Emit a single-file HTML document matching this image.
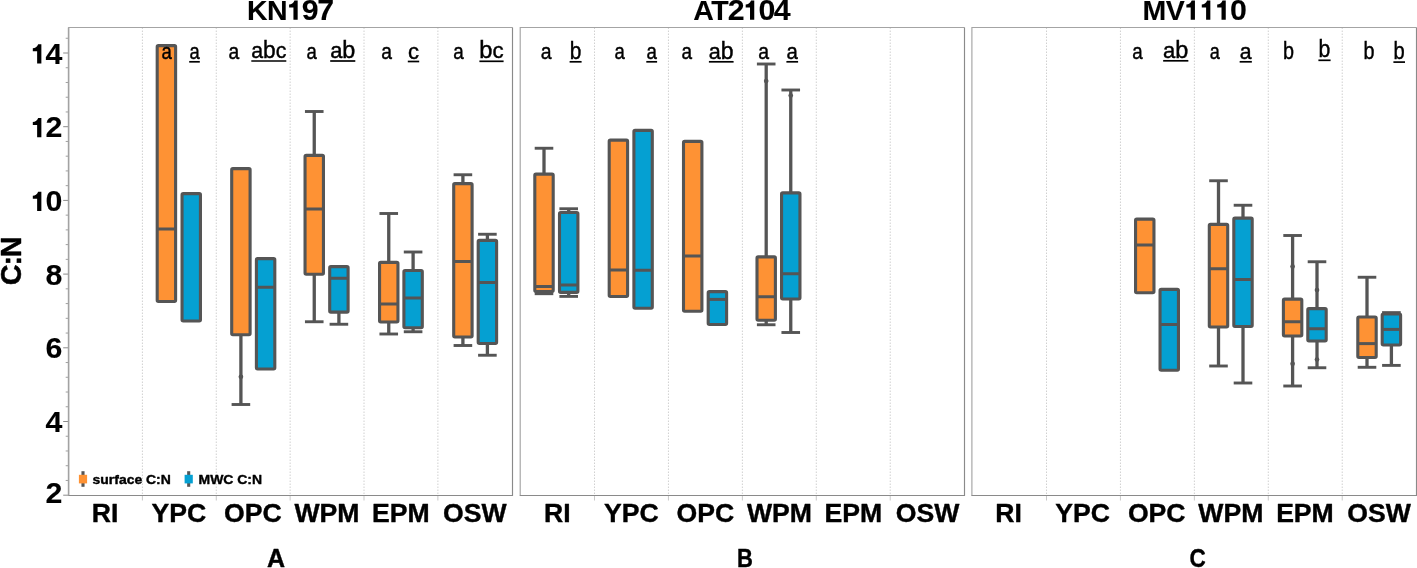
<!DOCTYPE html>
<html><head><meta charset="utf-8"><title>C:N boxplots</title>
<style>html,body{margin:0;padding:0;background:#fff;}body{width:1417px;height:568px;overflow:hidden;font-family:"Liberation Sans",sans-serif;}</style></head>
<body>
<svg width="1417" height="568" viewBox="0 0 1417 568" style="display:block;will-change:transform">
<rect width="1417" height="568" fill="#fff"/>
<line x1="142.40" y1="27.5" x2="142.40" y2="495.5" stroke="#d0d0d0" stroke-width="1" stroke-dasharray="1.5 1.5"/>
<line x1="142.40" y1="495.5" x2="142.40" y2="500.5" stroke="#c9c9c9" stroke-width="1"/>
<line x1="216.27" y1="27.5" x2="216.27" y2="495.5" stroke="#d0d0d0" stroke-width="1" stroke-dasharray="1.5 1.5"/>
<line x1="216.27" y1="495.5" x2="216.27" y2="500.5" stroke="#c9c9c9" stroke-width="1"/>
<line x1="290.14" y1="27.5" x2="290.14" y2="495.5" stroke="#d0d0d0" stroke-width="1" stroke-dasharray="1.5 1.5"/>
<line x1="290.14" y1="495.5" x2="290.14" y2="500.5" stroke="#c9c9c9" stroke-width="1"/>
<line x1="364.01" y1="27.5" x2="364.01" y2="495.5" stroke="#d0d0d0" stroke-width="1" stroke-dasharray="1.5 1.5"/>
<line x1="364.01" y1="495.5" x2="364.01" y2="500.5" stroke="#c9c9c9" stroke-width="1"/>
<line x1="437.88" y1="27.5" x2="437.88" y2="495.5" stroke="#d0d0d0" stroke-width="1" stroke-dasharray="1.5 1.5"/>
<line x1="437.88" y1="495.5" x2="437.88" y2="500.5" stroke="#c9c9c9" stroke-width="1"/>
<path d="M68.7,495.5V27.5H512.5" fill="none" stroke="#a4a4a4" stroke-width="1.15"/>
<path d="M512.5,27.5V495.5H68.2" fill="none" stroke="#8a8a8a" stroke-width="1.15"/>
<text x="246.90" y="19.75" font-family="Liberation Sans, sans-serif" font-weight="bold" font-size="28.53" fill="#000" stroke="#000" stroke-width="0.1" stroke-linejoin="round">K</text><text x="266.90" y="19.75" font-family="Liberation Sans, sans-serif" font-weight="bold" font-size="28.53" fill="#000" stroke="#000" stroke-width="0.1" stroke-linejoin="round">N</text><path transform="translate(287.20,19.75) scale(0.02770,-0.02770)" d="M378,0H225V445H69V553C150,556 228,603 262,697H378Z" fill="#000"/><text x="301.87" y="19.75" font-family="Liberation Sans, sans-serif" font-weight="bold" font-size="30.33" fill="#000" stroke="#000" stroke-width="0.1" stroke-linejoin="round">9</text><text x="317.27" y="19.75" font-family="Liberation Sans, sans-serif" font-weight="bold" font-size="30.33" fill="#000" stroke="#000" stroke-width="0.1" stroke-linejoin="round">7</text>
<text x="104.98" y="522.1" text-anchor="middle" font-family="Liberation Sans, sans-serif" font-weight="bold" stroke="#000" stroke-width="0.4" stroke-linejoin="round" font-size="26.6" fill="#000">RI</text>
<text x="178.95" y="522.1" text-anchor="middle" font-family="Liberation Sans, sans-serif" font-weight="bold" stroke="#000" stroke-width="0.4" stroke-linejoin="round" font-size="26.6" fill="#000">YPC</text>
<text x="252.92" y="522.1" text-anchor="middle" font-family="Liberation Sans, sans-serif" font-weight="bold" stroke="#000" stroke-width="0.4" stroke-linejoin="round" font-size="26.6" fill="#000">OPC</text>
<text x="326.88" y="522.1" text-anchor="middle" font-family="Liberation Sans, sans-serif" font-weight="bold" stroke="#000" stroke-width="0.4" stroke-linejoin="round" font-size="26.6" fill="#000">WPM</text>
<text x="400.85" y="522.1" text-anchor="middle" font-family="Liberation Sans, sans-serif" font-weight="bold" stroke="#000" stroke-width="0.4" stroke-linejoin="round" font-size="26.6" fill="#000">EPM</text>
<text x="474.82" y="522.1" text-anchor="middle" font-family="Liberation Sans, sans-serif" font-weight="bold" stroke="#000" stroke-width="0.4" stroke-linejoin="round" font-size="26.6" fill="#000">OSW</text>
<line x1="594.50" y1="27.5" x2="594.50" y2="495.5" stroke="#d0d0d0" stroke-width="1" stroke-dasharray="1.5 1.5"/>
<line x1="594.50" y1="495.5" x2="594.50" y2="500.5" stroke="#c9c9c9" stroke-width="1"/>
<line x1="668.43" y1="27.5" x2="668.43" y2="495.5" stroke="#d0d0d0" stroke-width="1" stroke-dasharray="1.5 1.5"/>
<line x1="668.43" y1="495.5" x2="668.43" y2="500.5" stroke="#c9c9c9" stroke-width="1"/>
<line x1="742.36" y1="27.5" x2="742.36" y2="495.5" stroke="#d0d0d0" stroke-width="1" stroke-dasharray="1.5 1.5"/>
<line x1="742.36" y1="495.5" x2="742.36" y2="500.5" stroke="#c9c9c9" stroke-width="1"/>
<line x1="816.29" y1="27.5" x2="816.29" y2="495.5" stroke="#d0d0d0" stroke-width="1" stroke-dasharray="1.5 1.5"/>
<line x1="816.29" y1="495.5" x2="816.29" y2="500.5" stroke="#c9c9c9" stroke-width="1"/>
<line x1="890.22" y1="27.5" x2="890.22" y2="495.5" stroke="#d0d0d0" stroke-width="1" stroke-dasharray="1.5 1.5"/>
<line x1="890.22" y1="495.5" x2="890.22" y2="500.5" stroke="#c9c9c9" stroke-width="1"/>
<path d="M520.2,495.5V27.5H964.5" fill="none" stroke="#a4a4a4" stroke-width="1.15"/>
<path d="M964.5,27.5V495.5H519.7" fill="none" stroke="#8a8a8a" stroke-width="1.15"/>
<text x="693.21" y="19.75" font-family="Liberation Sans, sans-serif" font-weight="bold" font-size="28.53" fill="#000" stroke="#000" stroke-width="0.1" stroke-linejoin="round">A</text><text x="711.21" y="19.75" font-family="Liberation Sans, sans-serif" font-weight="bold" font-size="28.53" fill="#000" stroke="#000" stroke-width="0.1" stroke-linejoin="round">T</text><text x="727.65" y="19.75" font-family="Liberation Sans, sans-serif" font-weight="bold" font-size="30.33" fill="#000" stroke="#000" stroke-width="0.1" stroke-linejoin="round">2</text><path transform="translate(743.79,19.75) scale(0.02770,-0.02770)" d="M378,0H225V445H69V553C150,556 228,603 262,697H378Z" fill="#000"/><text x="758.46" y="19.75" font-family="Liberation Sans, sans-serif" font-weight="bold" font-size="30.33" fill="#000" stroke="#000" stroke-width="0.1" stroke-linejoin="round">0</text><text x="773.86" y="19.75" font-family="Liberation Sans, sans-serif" font-weight="bold" font-size="30.33" fill="#000" stroke="#000" stroke-width="0.1" stroke-linejoin="round">4</text>
<text x="557.23" y="522.1" text-anchor="middle" font-family="Liberation Sans, sans-serif" font-weight="bold" stroke="#000" stroke-width="0.4" stroke-linejoin="round" font-size="26.6" fill="#000">RI</text>
<text x="631.28" y="522.1" text-anchor="middle" font-family="Liberation Sans, sans-serif" font-weight="bold" stroke="#000" stroke-width="0.4" stroke-linejoin="round" font-size="26.6" fill="#000">YPC</text>
<text x="705.33" y="522.1" text-anchor="middle" font-family="Liberation Sans, sans-serif" font-weight="bold" stroke="#000" stroke-width="0.4" stroke-linejoin="round" font-size="26.6" fill="#000">OPC</text>
<text x="779.38" y="522.1" text-anchor="middle" font-family="Liberation Sans, sans-serif" font-weight="bold" stroke="#000" stroke-width="0.4" stroke-linejoin="round" font-size="26.6" fill="#000">WPM</text>
<text x="853.42" y="522.1" text-anchor="middle" font-family="Liberation Sans, sans-serif" font-weight="bold" stroke="#000" stroke-width="0.4" stroke-linejoin="round" font-size="26.6" fill="#000">EPM</text>
<text x="927.48" y="522.1" text-anchor="middle" font-family="Liberation Sans, sans-serif" font-weight="bold" stroke="#000" stroke-width="0.4" stroke-linejoin="round" font-size="26.6" fill="#000">OSW</text>
<line x1="1046.50" y1="27.5" x2="1046.50" y2="495.5" stroke="#d0d0d0" stroke-width="1" stroke-dasharray="1.5 1.5"/>
<line x1="1046.50" y1="495.5" x2="1046.50" y2="500.5" stroke="#c9c9c9" stroke-width="1"/>
<line x1="1120.43" y1="27.5" x2="1120.43" y2="495.5" stroke="#d0d0d0" stroke-width="1" stroke-dasharray="1.5 1.5"/>
<line x1="1120.43" y1="495.5" x2="1120.43" y2="500.5" stroke="#c9c9c9" stroke-width="1"/>
<line x1="1194.36" y1="27.5" x2="1194.36" y2="495.5" stroke="#d0d0d0" stroke-width="1" stroke-dasharray="1.5 1.5"/>
<line x1="1194.36" y1="495.5" x2="1194.36" y2="500.5" stroke="#c9c9c9" stroke-width="1"/>
<line x1="1268.29" y1="27.5" x2="1268.29" y2="495.5" stroke="#d0d0d0" stroke-width="1" stroke-dasharray="1.5 1.5"/>
<line x1="1268.29" y1="495.5" x2="1268.29" y2="500.5" stroke="#c9c9c9" stroke-width="1"/>
<line x1="1342.22" y1="27.5" x2="1342.22" y2="495.5" stroke="#d0d0d0" stroke-width="1" stroke-dasharray="1.5 1.5"/>
<line x1="1342.22" y1="495.5" x2="1342.22" y2="500.5" stroke="#c9c9c9" stroke-width="1"/>
<path d="M971.9,495.5V27.5H1416.5" fill="none" stroke="#a4a4a4" stroke-width="1.15"/>
<path d="M1416.5,27.5V495.5H971.4" fill="none" stroke="#8a8a8a" stroke-width="1.15"/>
<text x="1142.58" y="19.75" font-family="Liberation Sans, sans-serif" font-weight="bold" font-size="28.53" fill="#000" stroke="#000" stroke-width="0.1" stroke-linejoin="round">M</text><text x="1165.72" y="19.75" font-family="Liberation Sans, sans-serif" font-weight="bold" font-size="28.53" fill="#000" stroke="#000" stroke-width="0.1" stroke-linejoin="round">V</text><path transform="translate(1184.47,19.75) scale(0.02770,-0.02770)" d="M378,0H225V445H69V553C150,556 228,603 262,697H378Z" fill="#000"/><path transform="translate(1199.87,19.75) scale(0.02770,-0.02770)" d="M378,0H225V445H69V553C150,556 228,603 262,697H378Z" fill="#000"/><path transform="translate(1215.28,19.75) scale(0.02770,-0.02770)" d="M378,0H225V445H69V553C150,556 228,603 262,697H378Z" fill="#000"/><text x="1229.94" y="19.75" font-family="Liberation Sans, sans-serif" font-weight="bold" font-size="30.33" fill="#000" stroke="#000" stroke-width="0.1" stroke-linejoin="round">0</text>
<text x="1008.55" y="522.1" text-anchor="middle" font-family="Liberation Sans, sans-serif" font-weight="bold" stroke="#000" stroke-width="0.4" stroke-linejoin="round" font-size="26.6" fill="#000">RI</text>
<text x="1082.65" y="522.1" text-anchor="middle" font-family="Liberation Sans, sans-serif" font-weight="bold" stroke="#000" stroke-width="0.4" stroke-linejoin="round" font-size="26.6" fill="#000">YPC</text>
<text x="1156.75" y="522.1" text-anchor="middle" font-family="Liberation Sans, sans-serif" font-weight="bold" stroke="#000" stroke-width="0.4" stroke-linejoin="round" font-size="26.6" fill="#000">OPC</text>
<text x="1230.85" y="522.1" text-anchor="middle" font-family="Liberation Sans, sans-serif" font-weight="bold" stroke="#000" stroke-width="0.4" stroke-linejoin="round" font-size="26.6" fill="#000">WPM</text>
<text x="1304.95" y="522.1" text-anchor="middle" font-family="Liberation Sans, sans-serif" font-weight="bold" stroke="#000" stroke-width="0.4" stroke-linejoin="round" font-size="26.6" fill="#000">EPM</text>
<text x="1379.05" y="522.1" text-anchor="middle" font-family="Liberation Sans, sans-serif" font-weight="bold" stroke="#000" stroke-width="0.4" stroke-linejoin="round" font-size="26.6" fill="#000">OSW</text>
<line x1="63.2" y1="495.20" x2="68.7" y2="495.20" stroke="#8c8c8c" stroke-width="1"/>
<text x="45.57" y="502.80" font-family="Liberation Sans, sans-serif" font-weight="bold" font-size="30.33" fill="#000" stroke="#000" stroke-width="0.1" stroke-linejoin="round">2</text>
<line x1="65.7" y1="480.46" x2="68.7" y2="480.46" stroke="#a0a0a0" stroke-width="1"/>
<line x1="65.7" y1="465.72" x2="68.7" y2="465.72" stroke="#a0a0a0" stroke-width="1"/>
<line x1="65.7" y1="450.98" x2="68.7" y2="450.98" stroke="#a0a0a0" stroke-width="1"/>
<line x1="65.7" y1="436.24" x2="68.7" y2="436.24" stroke="#a0a0a0" stroke-width="1"/>
<line x1="63.2" y1="421.50" x2="68.7" y2="421.50" stroke="#8c8c8c" stroke-width="1"/>
<text x="45.57" y="432.10" font-family="Liberation Sans, sans-serif" font-weight="bold" font-size="30.33" fill="#000" stroke="#000" stroke-width="0.1" stroke-linejoin="round">4</text>
<line x1="65.7" y1="406.76" x2="68.7" y2="406.76" stroke="#a0a0a0" stroke-width="1"/>
<line x1="65.7" y1="392.02" x2="68.7" y2="392.02" stroke="#a0a0a0" stroke-width="1"/>
<line x1="65.7" y1="377.28" x2="68.7" y2="377.28" stroke="#a0a0a0" stroke-width="1"/>
<line x1="65.7" y1="362.54" x2="68.7" y2="362.54" stroke="#a0a0a0" stroke-width="1"/>
<line x1="63.2" y1="347.80" x2="68.7" y2="347.80" stroke="#8c8c8c" stroke-width="1"/>
<text x="45.57" y="358.40" font-family="Liberation Sans, sans-serif" font-weight="bold" font-size="30.33" fill="#000" stroke="#000" stroke-width="0.1" stroke-linejoin="round">6</text>
<line x1="65.7" y1="333.06" x2="68.7" y2="333.06" stroke="#a0a0a0" stroke-width="1"/>
<line x1="65.7" y1="318.32" x2="68.7" y2="318.32" stroke="#a0a0a0" stroke-width="1"/>
<line x1="65.7" y1="303.58" x2="68.7" y2="303.58" stroke="#a0a0a0" stroke-width="1"/>
<line x1="65.7" y1="288.84" x2="68.7" y2="288.84" stroke="#a0a0a0" stroke-width="1"/>
<line x1="63.2" y1="274.10" x2="68.7" y2="274.10" stroke="#8c8c8c" stroke-width="1"/>
<text x="45.57" y="284.70" font-family="Liberation Sans, sans-serif" font-weight="bold" font-size="30.33" fill="#000" stroke="#000" stroke-width="0.1" stroke-linejoin="round">8</text>
<line x1="65.7" y1="259.36" x2="68.7" y2="259.36" stroke="#a0a0a0" stroke-width="1"/>
<line x1="65.7" y1="244.62" x2="68.7" y2="244.62" stroke="#a0a0a0" stroke-width="1"/>
<line x1="65.7" y1="229.88" x2="68.7" y2="229.88" stroke="#a0a0a0" stroke-width="1"/>
<line x1="65.7" y1="215.14" x2="68.7" y2="215.14" stroke="#a0a0a0" stroke-width="1"/>
<line x1="63.2" y1="200.40" x2="68.7" y2="200.40" stroke="#8c8c8c" stroke-width="1"/>
<path transform="translate(30.90,211.00) scale(0.02770,-0.02770)" d="M378,0H225V445H69V553C150,556 228,603 262,697H378Z" fill="#000"/><text x="45.57" y="211.00" font-family="Liberation Sans, sans-serif" font-weight="bold" font-size="30.33" fill="#000" stroke="#000" stroke-width="0.1" stroke-linejoin="round">0</text>
<line x1="65.7" y1="185.66" x2="68.7" y2="185.66" stroke="#a0a0a0" stroke-width="1"/>
<line x1="65.7" y1="170.92" x2="68.7" y2="170.92" stroke="#a0a0a0" stroke-width="1"/>
<line x1="65.7" y1="156.18" x2="68.7" y2="156.18" stroke="#a0a0a0" stroke-width="1"/>
<line x1="65.7" y1="141.44" x2="68.7" y2="141.44" stroke="#a0a0a0" stroke-width="1"/>
<line x1="63.2" y1="126.70" x2="68.7" y2="126.70" stroke="#8c8c8c" stroke-width="1"/>
<path transform="translate(30.90,137.30) scale(0.02770,-0.02770)" d="M378,0H225V445H69V553C150,556 228,603 262,697H378Z" fill="#000"/><text x="45.57" y="137.30" font-family="Liberation Sans, sans-serif" font-weight="bold" font-size="30.33" fill="#000" stroke="#000" stroke-width="0.1" stroke-linejoin="round">2</text>
<line x1="65.7" y1="111.96" x2="68.7" y2="111.96" stroke="#a0a0a0" stroke-width="1"/>
<line x1="65.7" y1="97.22" x2="68.7" y2="97.22" stroke="#a0a0a0" stroke-width="1"/>
<line x1="65.7" y1="82.48" x2="68.7" y2="82.48" stroke="#a0a0a0" stroke-width="1"/>
<line x1="65.7" y1="67.74" x2="68.7" y2="67.74" stroke="#a0a0a0" stroke-width="1"/>
<line x1="63.2" y1="53.00" x2="68.7" y2="53.00" stroke="#8c8c8c" stroke-width="1"/>
<path transform="translate(30.90,63.60) scale(0.02770,-0.02770)" d="M378,0H225V445H69V553C150,556 228,603 262,697H378Z" fill="#000"/><text x="45.57" y="63.60" font-family="Liberation Sans, sans-serif" font-weight="bold" font-size="30.33" fill="#000" stroke="#000" stroke-width="0.1" stroke-linejoin="round">4</text>
<line x1="65.7" y1="38.26" x2="68.7" y2="38.26" stroke="#a0a0a0" stroke-width="1"/>
<line x1="68.5" y1="27.5" x2="68.5" y2="495.5" stroke="#a2a2a2" stroke-width="1.4"/>
<g transform="translate(20.9,260.8) rotate(-90)"><text x="-24.40" y="0.00" font-family="Liberation Sans, sans-serif" font-weight="bold" font-size="28.73" fill="#000" stroke="#000" stroke-width="0.45" stroke-linejoin="round">C</text><text x="-4.78" y="0.00" font-family="Liberation Sans, sans-serif" font-weight="bold" font-size="28.73" fill="#000" stroke="#000" stroke-width="0.45" stroke-linejoin="round">:</text><text x="3.66" y="0.00" font-family="Liberation Sans, sans-serif" font-weight="bold" font-size="28.73" fill="#000" stroke="#000" stroke-width="0.45" stroke-linejoin="round">N</text></g>
<rect x="157.20" y="45.65" width="18.40" height="255.90" rx="1.2" fill="#FE9234" stroke="#555555" stroke-width="3.1" stroke-linejoin="round"/>
<line x1="157.20" y1="229" x2="175.60" y2="229" stroke="#555555" stroke-width="3"/>
<rect x="182.05" y="193.65" width="18.40" height="127.40" rx="1.2" fill="#05A0D2" stroke="#555555" stroke-width="3.1" stroke-linejoin="round"/>
<line x1="240.9" y1="335.35" x2="240.9" y2="404.5" stroke="#555555" stroke-width="3.3"/>
<line x1="231.6" y1="404.5" x2="250.20000000000002" y2="404.5" stroke="#555555" stroke-width="2.9"/>
<rect x="231.70" y="168.65" width="18.40" height="166.15" rx="1.2" fill="#FE9234" stroke="#555555" stroke-width="3.1" stroke-linejoin="round"/>
<circle cx="240.9" cy="376.75" r="2.35" fill="#555555"/>
<rect x="256.40" y="258.65" width="18.40" height="110.40" rx="1.2" fill="#05A0D2" stroke="#555555" stroke-width="3.1" stroke-linejoin="round"/>
<line x1="256.40" y1="287.25" x2="274.80" y2="287.25" stroke="#555555" stroke-width="3"/>
<line x1="314.25" y1="111.5" x2="314.25" y2="154.85" stroke="#555555" stroke-width="3.3"/>
<line x1="304.95" y1="111.5" x2="323.55" y2="111.5" stroke="#555555" stroke-width="2.9"/>
<line x1="314.25" y1="274.85" x2="314.25" y2="321.75" stroke="#555555" stroke-width="3.3"/>
<line x1="304.95" y1="321.75" x2="323.55" y2="321.75" stroke="#555555" stroke-width="2.9"/>
<rect x="305.05" y="155.40" width="18.40" height="118.90" rx="1.2" fill="#FE9234" stroke="#555555" stroke-width="3.1" stroke-linejoin="round"/>
<line x1="305.05" y1="209" x2="323.45" y2="209" stroke="#555555" stroke-width="3"/>
<line x1="338.9" y1="312.70000000000005" x2="338.9" y2="324.25" stroke="#555555" stroke-width="3.3"/>
<line x1="329.59999999999997" y1="324.25" x2="348.2" y2="324.25" stroke="#555555" stroke-width="2.9"/>
<rect x="329.70" y="266.65" width="18.40" height="45.50" rx="1.2" fill="#05A0D2" stroke="#555555" stroke-width="3.1" stroke-linejoin="round"/>
<line x1="329.70" y1="278.25" x2="348.10" y2="278.25" stroke="#555555" stroke-width="3"/>
<line x1="388.75" y1="213.5" x2="388.75" y2="261.85" stroke="#555555" stroke-width="3.3"/>
<line x1="379.45" y1="213.5" x2="398.05" y2="213.5" stroke="#555555" stroke-width="2.9"/>
<line x1="388.75" y1="322.6" x2="388.75" y2="334" stroke="#555555" stroke-width="3.3"/>
<line x1="379.45" y1="334" x2="398.05" y2="334" stroke="#555555" stroke-width="2.9"/>
<rect x="379.55" y="262.40" width="18.40" height="59.65" rx="1.2" fill="#FE9234" stroke="#555555" stroke-width="3.1" stroke-linejoin="round"/>
<line x1="379.55" y1="304.0" x2="397.95" y2="304.0" stroke="#555555" stroke-width="3"/>
<line x1="413.1" y1="252" x2="413.1" y2="270.0" stroke="#555555" stroke-width="3.3"/>
<line x1="403.8" y1="252" x2="422.40000000000003" y2="252" stroke="#555555" stroke-width="2.9"/>
<line x1="413.1" y1="328.35" x2="413.1" y2="331.75" stroke="#555555" stroke-width="3.3"/>
<line x1="403.8" y1="331.75" x2="422.40000000000003" y2="331.75" stroke="#555555" stroke-width="2.9"/>
<rect x="403.90" y="270.55" width="18.40" height="57.25" rx="1.2" fill="#05A0D2" stroke="#555555" stroke-width="3.1" stroke-linejoin="round"/>
<line x1="403.90" y1="298" x2="422.30" y2="298" stroke="#555555" stroke-width="3"/>
<line x1="462.9" y1="174.75" x2="462.9" y2="183.1" stroke="#555555" stroke-width="3.3"/>
<line x1="453.59999999999997" y1="174.75" x2="472.2" y2="174.75" stroke="#555555" stroke-width="2.9"/>
<line x1="462.9" y1="337.6" x2="462.9" y2="345.5" stroke="#555555" stroke-width="3.3"/>
<line x1="453.59999999999997" y1="345.5" x2="472.2" y2="345.5" stroke="#555555" stroke-width="2.9"/>
<rect x="453.70" y="183.65" width="18.40" height="153.40" rx="1.2" fill="#FE9234" stroke="#555555" stroke-width="3.1" stroke-linejoin="round"/>
<line x1="453.70" y1="261.5" x2="472.10" y2="261.5" stroke="#555555" stroke-width="3"/>
<line x1="487.4" y1="234.25" x2="487.4" y2="239.85" stroke="#555555" stroke-width="3.3"/>
<line x1="478.09999999999997" y1="234.25" x2="496.7" y2="234.25" stroke="#555555" stroke-width="2.9"/>
<line x1="487.4" y1="344.1" x2="487.4" y2="355.25" stroke="#555555" stroke-width="3.3"/>
<line x1="478.09999999999997" y1="355.25" x2="496.7" y2="355.25" stroke="#555555" stroke-width="2.9"/>
<rect x="478.20" y="240.40" width="18.40" height="103.15" rx="1.2" fill="#05A0D2" stroke="#555555" stroke-width="3.1" stroke-linejoin="round"/>
<line x1="478.20" y1="282.5" x2="496.60" y2="282.5" stroke="#555555" stroke-width="3"/>
<line x1="544.0" y1="148.25" x2="544.0" y2="173.6" stroke="#555555" stroke-width="3.3"/>
<line x1="534.7" y1="148.25" x2="553.3" y2="148.25" stroke="#555555" stroke-width="2.9"/>
<line x1="544.0" y1="292.0" x2="544.0" y2="293.7" stroke="#555555" stroke-width="3.3"/>
<line x1="534.7" y1="293.7" x2="553.3" y2="293.7" stroke="#555555" stroke-width="2.9"/>
<rect x="534.80" y="174.15" width="18.40" height="117.30" rx="1.2" fill="#FE9234" stroke="#555555" stroke-width="3.1" stroke-linejoin="round"/>
<line x1="534.80" y1="286.5" x2="553.20" y2="286.5" stroke="#555555" stroke-width="3"/>
<line x1="568.7" y1="208.75" x2="568.7" y2="212.0" stroke="#555555" stroke-width="3.3"/>
<line x1="559.4000000000001" y1="208.75" x2="578.0" y2="208.75" stroke="#555555" stroke-width="2.9"/>
<line x1="568.7" y1="292.90000000000003" x2="568.7" y2="296.4" stroke="#555555" stroke-width="3.3"/>
<line x1="559.4000000000001" y1="296.4" x2="578.0" y2="296.4" stroke="#555555" stroke-width="2.9"/>
<rect x="559.50" y="212.55" width="18.40" height="79.80" rx="1.2" fill="#05A0D2" stroke="#555555" stroke-width="3.1" stroke-linejoin="round"/>
<line x1="559.50" y1="285" x2="577.90" y2="285" stroke="#555555" stroke-width="3"/>
<rect x="609.20" y="140.15" width="18.40" height="156.40" rx="1.2" fill="#FE9234" stroke="#555555" stroke-width="3.1" stroke-linejoin="round"/>
<line x1="609.20" y1="270" x2="627.60" y2="270" stroke="#555555" stroke-width="3"/>
<rect x="633.90" y="130.40" width="18.40" height="177.90" rx="1.2" fill="#05A0D2" stroke="#555555" stroke-width="3.1" stroke-linejoin="round"/>
<line x1="633.90" y1="270.25" x2="652.30" y2="270.25" stroke="#555555" stroke-width="3"/>
<rect x="683.50" y="141.40" width="18.40" height="169.90" rx="1.2" fill="#FE9234" stroke="#555555" stroke-width="3.1" stroke-linejoin="round"/>
<line x1="683.50" y1="256" x2="701.90" y2="256" stroke="#555555" stroke-width="3"/>
<rect x="708.20" y="291.65" width="18.40" height="32.90" rx="1.2" fill="#05A0D2" stroke="#555555" stroke-width="3.1" stroke-linejoin="round"/>
<line x1="708.20" y1="299.4" x2="726.60" y2="299.4" stroke="#555555" stroke-width="3"/>
<line x1="766.2" y1="64" x2="766.2" y2="256.35" stroke="#555555" stroke-width="3.3"/>
<line x1="756.9000000000001" y1="64" x2="775.5" y2="64" stroke="#555555" stroke-width="2.9"/>
<line x1="766.2" y1="320.85" x2="766.2" y2="324.75" stroke="#555555" stroke-width="3.3"/>
<line x1="756.9000000000001" y1="324.75" x2="775.5" y2="324.75" stroke="#555555" stroke-width="2.9"/>
<rect x="757.00" y="256.90" width="18.40" height="63.40" rx="1.2" fill="#FE9234" stroke="#555555" stroke-width="3.1" stroke-linejoin="round"/>
<line x1="757.00" y1="296.75" x2="775.40" y2="296.75" stroke="#555555" stroke-width="3"/>
<circle cx="766.2" cy="81" r="2.35" fill="#555555"/>
<line x1="790.75" y1="90" x2="790.75" y2="192.35" stroke="#555555" stroke-width="3.3"/>
<line x1="781.45" y1="90" x2="800.05" y2="90" stroke="#555555" stroke-width="2.9"/>
<line x1="790.75" y1="299.6" x2="790.75" y2="332.5" stroke="#555555" stroke-width="3.3"/>
<line x1="781.45" y1="332.5" x2="800.05" y2="332.5" stroke="#555555" stroke-width="2.9"/>
<rect x="781.55" y="192.90" width="18.40" height="106.15" rx="1.2" fill="#05A0D2" stroke="#555555" stroke-width="3.1" stroke-linejoin="round"/>
<line x1="781.55" y1="273.75" x2="799.95" y2="273.75" stroke="#555555" stroke-width="3"/>
<circle cx="790.75" cy="95.5" r="2.35" fill="#555555"/>
<rect x="1135.55" y="219.15" width="18.40" height="73.65" rx="1.2" fill="#FE9234" stroke="#555555" stroke-width="3.1" stroke-linejoin="round"/>
<line x1="1135.55" y1="245" x2="1153.95" y2="245" stroke="#555555" stroke-width="3"/>
<rect x="1160.05" y="289.40" width="18.40" height="80.90" rx="1.2" fill="#05A0D2" stroke="#555555" stroke-width="3.1" stroke-linejoin="round"/>
<line x1="1160.05" y1="324.5" x2="1178.45" y2="324.5" stroke="#555555" stroke-width="3"/>
<line x1="1218.5" y1="180.75" x2="1218.5" y2="223.85" stroke="#555555" stroke-width="3.3"/>
<line x1="1209.2" y1="180.75" x2="1227.8" y2="180.75" stroke="#555555" stroke-width="2.9"/>
<line x1="1218.5" y1="327.6" x2="1218.5" y2="366" stroke="#555555" stroke-width="3.3"/>
<line x1="1209.2" y1="366" x2="1227.8" y2="366" stroke="#555555" stroke-width="2.9"/>
<rect x="1209.30" y="224.40" width="18.40" height="102.65" rx="1.2" fill="#FE9234" stroke="#555555" stroke-width="3.1" stroke-linejoin="round"/>
<line x1="1209.30" y1="268.75" x2="1227.70" y2="268.75" stroke="#555555" stroke-width="3"/>
<line x1="1243" y1="205.25" x2="1243" y2="217.6" stroke="#555555" stroke-width="3.3"/>
<line x1="1233.7" y1="205.25" x2="1252.3" y2="205.25" stroke="#555555" stroke-width="2.9"/>
<line x1="1243" y1="327.1" x2="1243" y2="383" stroke="#555555" stroke-width="3.3"/>
<line x1="1233.7" y1="383" x2="1252.3" y2="383" stroke="#555555" stroke-width="2.9"/>
<rect x="1233.80" y="218.15" width="18.40" height="108.40" rx="1.2" fill="#05A0D2" stroke="#555555" stroke-width="3.1" stroke-linejoin="round"/>
<line x1="1233.80" y1="279.5" x2="1252.20" y2="279.5" stroke="#555555" stroke-width="3"/>
<line x1="1292.6" y1="235.5" x2="1292.6" y2="298.6" stroke="#555555" stroke-width="3.3"/>
<line x1="1283.3" y1="235.5" x2="1301.8999999999999" y2="235.5" stroke="#555555" stroke-width="2.9"/>
<line x1="1292.6" y1="336.6" x2="1292.6" y2="386" stroke="#555555" stroke-width="3.3"/>
<line x1="1283.3" y1="386" x2="1301.8999999999999" y2="386" stroke="#555555" stroke-width="2.9"/>
<rect x="1283.40" y="299.15" width="18.40" height="36.90" rx="1.2" fill="#FE9234" stroke="#555555" stroke-width="3.1" stroke-linejoin="round"/>
<line x1="1283.40" y1="321.75" x2="1301.80" y2="321.75" stroke="#555555" stroke-width="3"/>
<circle cx="1292.6" cy="266.5" r="2.35" fill="#555555"/>
<circle cx="1292.6" cy="363.75" r="2.35" fill="#555555"/>
<line x1="1317" y1="261.75" x2="1317" y2="308.1" stroke="#555555" stroke-width="3.3"/>
<line x1="1307.7" y1="261.75" x2="1326.3" y2="261.75" stroke="#555555" stroke-width="2.9"/>
<line x1="1317" y1="341.6" x2="1317" y2="367.75" stroke="#555555" stroke-width="3.3"/>
<line x1="1307.7" y1="367.75" x2="1326.3" y2="367.75" stroke="#555555" stroke-width="2.9"/>
<rect x="1307.80" y="308.65" width="18.40" height="32.40" rx="1.2" fill="#05A0D2" stroke="#555555" stroke-width="3.1" stroke-linejoin="round"/>
<line x1="1307.80" y1="328.75" x2="1326.20" y2="328.75" stroke="#555555" stroke-width="3"/>
<circle cx="1317" cy="290" r="2.35" fill="#555555"/>
<circle cx="1317" cy="359.5" r="2.35" fill="#555555"/>
<line x1="1367" y1="277.25" x2="1367" y2="316.5" stroke="#555555" stroke-width="3.3"/>
<line x1="1357.7" y1="277.25" x2="1376.3" y2="277.25" stroke="#555555" stroke-width="2.9"/>
<line x1="1367" y1="358.0" x2="1367" y2="367.3" stroke="#555555" stroke-width="3.3"/>
<line x1="1357.7" y1="367.3" x2="1376.3" y2="367.3" stroke="#555555" stroke-width="2.9"/>
<rect x="1357.80" y="317.05" width="18.40" height="40.40" rx="1.2" fill="#FE9234" stroke="#555555" stroke-width="3.1" stroke-linejoin="round"/>
<line x1="1357.80" y1="343.6" x2="1376.20" y2="343.6" stroke="#555555" stroke-width="3"/>
<line x1="1391.4" y1="312.6" x2="1391.4" y2="313.5" stroke="#555555" stroke-width="3.3"/>
<line x1="1382.1000000000001" y1="312.6" x2="1400.7" y2="312.6" stroke="#555555" stroke-width="2.9"/>
<line x1="1391.4" y1="345.6" x2="1391.4" y2="365.4" stroke="#555555" stroke-width="3.3"/>
<line x1="1382.1000000000001" y1="365.4" x2="1400.7" y2="365.4" stroke="#555555" stroke-width="2.9"/>
<rect x="1382.20" y="314.05" width="18.40" height="31.00" rx="1.2" fill="#05A0D2" stroke="#555555" stroke-width="3.1" stroke-linejoin="round"/>
<line x1="1382.20" y1="329.4" x2="1400.60" y2="329.4" stroke="#555555" stroke-width="3"/>
<text x="161.60" y="58.8" textLength="10.30" lengthAdjust="spacingAndGlyphs" font-family="Liberation Sans, sans-serif" fill="#000" stroke="#000" stroke-width="0.42"><tspan font-size="21.6">a</tspan></text>
<text x="189.40" y="58.8" textLength="10.20" lengthAdjust="spacingAndGlyphs" font-family="Liberation Sans, sans-serif" fill="#000" stroke="#000" stroke-width="0.42"><tspan font-size="21.6">a</tspan></text>
<line x1="189.20" y1="61.8" x2="199.80" y2="61.8" stroke="#000" stroke-width="1.7"/>
<text x="228.60" y="58.8" textLength="10.70" lengthAdjust="spacingAndGlyphs" font-family="Liberation Sans, sans-serif" fill="#000" stroke="#000" stroke-width="0.42"><tspan font-size="21.6">a</tspan></text>
<text x="251.25" y="58.0" textLength="35.10" lengthAdjust="spacingAndGlyphs" font-family="Liberation Sans, sans-serif" fill="#000" stroke="#000" stroke-width="0.42"><tspan font-size="21.6">a</tspan><tspan font-size="23">b</tspan><tspan font-size="21.6">c</tspan></text>
<line x1="251.30" y1="61.0" x2="286.30" y2="61.0" stroke="#000" stroke-width="1.7"/>
<text x="306.40" y="58.8" textLength="10.30" lengthAdjust="spacingAndGlyphs" font-family="Liberation Sans, sans-serif" fill="#000" stroke="#000" stroke-width="0.42"><tspan font-size="21.6">a</tspan></text>
<text x="330.15" y="58.0" textLength="25.20" lengthAdjust="spacingAndGlyphs" font-family="Liberation Sans, sans-serif" fill="#000" stroke="#000" stroke-width="0.42"><tspan font-size="21.6">a</tspan><tspan font-size="23">b</tspan></text>
<line x1="330.20" y1="61.0" x2="355.30" y2="61.0" stroke="#000" stroke-width="1.7"/>
<text x="381.30" y="58.8" textLength="10.70" lengthAdjust="spacingAndGlyphs" font-family="Liberation Sans, sans-serif" fill="#000" stroke="#000" stroke-width="0.42"><tspan font-size="21.6">a</tspan></text>
<text x="408.00" y="58.5" textLength="11.00" lengthAdjust="spacingAndGlyphs" font-family="Liberation Sans, sans-serif" fill="#000" stroke="#000" stroke-width="0.42"><tspan font-size="21.6">c</tspan></text>
<line x1="407.80" y1="61.5" x2="419.20" y2="61.5" stroke="#000" stroke-width="1.7"/>
<text x="453.35" y="58.8" textLength="10.45" lengthAdjust="spacingAndGlyphs" font-family="Liberation Sans, sans-serif" fill="#000" stroke="#000" stroke-width="0.42"><tspan font-size="21.6">a</tspan></text>
<text x="479.35" y="58.3" textLength="24.30" lengthAdjust="spacingAndGlyphs" font-family="Liberation Sans, sans-serif" fill="#000" stroke="#000" stroke-width="0.42"><tspan font-size="23">b</tspan><tspan font-size="21.6">c</tspan></text>
<line x1="479.40" y1="61.3" x2="503.60" y2="61.3" stroke="#000" stroke-width="1.7"/>
<text x="540.85" y="58.8" textLength="10.80" lengthAdjust="spacingAndGlyphs" font-family="Liberation Sans, sans-serif" fill="#000" stroke="#000" stroke-width="0.42"><tspan font-size="21.6">a</tspan></text>
<text x="569.80" y="58.8" textLength="11.60" lengthAdjust="spacingAndGlyphs" font-family="Liberation Sans, sans-serif" fill="#000" stroke="#000" stroke-width="0.42"><tspan font-size="23">b</tspan></text>
<line x1="569.60" y1="61.8" x2="581.60" y2="61.8" stroke="#000" stroke-width="1.7"/>
<text x="614.60" y="58.8" textLength="10.30" lengthAdjust="spacingAndGlyphs" font-family="Liberation Sans, sans-serif" fill="#000" stroke="#000" stroke-width="0.42"><tspan font-size="21.6">a</tspan></text>
<text x="646.50" y="58.8" textLength="10.40" lengthAdjust="spacingAndGlyphs" font-family="Liberation Sans, sans-serif" fill="#000" stroke="#000" stroke-width="0.42"><tspan font-size="21.6">a</tspan></text>
<line x1="646.30" y1="61.8" x2="657.10" y2="61.8" stroke="#000" stroke-width="1.7"/>
<text x="681.60" y="58.8" textLength="10.55" lengthAdjust="spacingAndGlyphs" font-family="Liberation Sans, sans-serif" fill="#000" stroke="#000" stroke-width="0.42"><tspan font-size="21.6">a</tspan></text>
<text x="708.85" y="58.8" textLength="24.80" lengthAdjust="spacingAndGlyphs" font-family="Liberation Sans, sans-serif" fill="#000" stroke="#000" stroke-width="0.42"><tspan font-size="21.6">a</tspan><tspan font-size="23">b</tspan></text>
<line x1="708.90" y1="61.8" x2="733.60" y2="61.8" stroke="#000" stroke-width="1.7"/>
<text x="758.35" y="58.8" textLength="10.80" lengthAdjust="spacingAndGlyphs" font-family="Liberation Sans, sans-serif" fill="#000" stroke="#000" stroke-width="0.42"><tspan font-size="21.6">a</tspan></text>
<text x="786.60" y="58.8" textLength="11.30" lengthAdjust="spacingAndGlyphs" font-family="Liberation Sans, sans-serif" fill="#000" stroke="#000" stroke-width="0.42"><tspan font-size="21.6">a</tspan></text>
<line x1="786.40" y1="61.8" x2="798.10" y2="61.8" stroke="#000" stroke-width="1.7"/>
<text x="1132.20" y="58.5" textLength="10.40" lengthAdjust="spacingAndGlyphs" font-family="Liberation Sans, sans-serif" fill="#000" stroke="#000" stroke-width="0.42"><tspan font-size="21.6">a</tspan></text>
<text x="1163.10" y="57.8" textLength="25.30" lengthAdjust="spacingAndGlyphs" font-family="Liberation Sans, sans-serif" fill="#000" stroke="#000" stroke-width="0.42"><tspan font-size="21.6">a</tspan><tspan font-size="23">b</tspan></text>
<line x1="1163.15" y1="60.8" x2="1188.35" y2="60.8" stroke="#000" stroke-width="1.7"/>
<text x="1209.85" y="58.8" textLength="10.05" lengthAdjust="spacingAndGlyphs" font-family="Liberation Sans, sans-serif" fill="#000" stroke="#000" stroke-width="0.42"><tspan font-size="21.6">a</tspan></text>
<text x="1239.85" y="58.8" textLength="11.80" lengthAdjust="spacingAndGlyphs" font-family="Liberation Sans, sans-serif" fill="#000" stroke="#000" stroke-width="0.42"><tspan font-size="21.6">a</tspan></text>
<line x1="1239.65" y1="61.8" x2="1251.85" y2="61.8" stroke="#000" stroke-width="1.7"/>
<text x="1283.00" y="58.8" textLength="11.00" lengthAdjust="spacingAndGlyphs" font-family="Liberation Sans, sans-serif" fill="#000" stroke="#000" stroke-width="0.42"><tspan font-size="23">b</tspan></text>
<text x="1318.60" y="57.3" textLength="11.80" lengthAdjust="spacingAndGlyphs" font-family="Liberation Sans, sans-serif" fill="#000" stroke="#000" stroke-width="0.42"><tspan font-size="23">b</tspan></text>
<line x1="1318.40" y1="60.3" x2="1330.60" y2="60.3" stroke="#000" stroke-width="1.7"/>
<text x="1363.60" y="58.8" textLength="11.00" lengthAdjust="spacingAndGlyphs" font-family="Liberation Sans, sans-serif" fill="#000" stroke="#000" stroke-width="0.42"><tspan font-size="23">b</tspan></text>
<text x="1393.60" y="59.099999999999994" textLength="11.20" lengthAdjust="spacingAndGlyphs" font-family="Liberation Sans, sans-serif" fill="#000" stroke="#000" stroke-width="0.42"><tspan font-size="23">b</tspan></text>
<line x1="1393.40" y1="62.099999999999994" x2="1405.00" y2="62.099999999999994" stroke="#000" stroke-width="1.7"/>
<line x1="83" y1="471.2" x2="83" y2="486.8" stroke="#555555" stroke-width="3.1"/><rect x="78.9" y="474.8" width="8.2" height="8.6" fill="#FE9234"/>
<text x="0" y="0" font-family="Liberation Sans, sans-serif" font-weight="bold" stroke="#000" stroke-width="0.4" stroke-linejoin="round" font-size="13.1" fill="#000" transform="translate(92.6,484.4) scale(1.065,1)">surface C:N</text>
<line x1="188.7" y1="471.2" x2="188.7" y2="486.8" stroke="#555555" stroke-width="3.1"/><rect x="184.6" y="474.8" width="8.2" height="8.6" fill="#05A0D2"/>
<text x="0" y="0" font-family="Liberation Sans, sans-serif" font-weight="bold" stroke="#000" stroke-width="0.4" stroke-linejoin="round" font-size="13.1" fill="#000" transform="translate(198.6,484.4) scale(1.065,1)">MWC C:N</text>
<text x="276" y="567.3" text-anchor="middle" font-family="Liberation Sans, sans-serif" font-weight="bold" stroke="#000" stroke-width="0.4" stroke-linejoin="round" font-size="25" fill="#000" transform="translate(276,0) scale(1.0,1) translate(-276,0)">A</text>
<text x="744.9" y="567.3" text-anchor="middle" font-family="Liberation Sans, sans-serif" font-weight="bold" stroke="#000" stroke-width="0.4" stroke-linejoin="round" font-size="25" fill="#000" transform="translate(744.9,0) scale(0.88,1) translate(-744.9,0)">B</text>
<text x="1197.6" y="567.3" text-anchor="middle" font-family="Liberation Sans, sans-serif" font-weight="bold" stroke="#000" stroke-width="0.4" stroke-linejoin="round" font-size="25" fill="#000" transform="translate(1197.6,0) scale(0.9,1) translate(-1197.6,0)">C</text>
</svg>
</body></html>
